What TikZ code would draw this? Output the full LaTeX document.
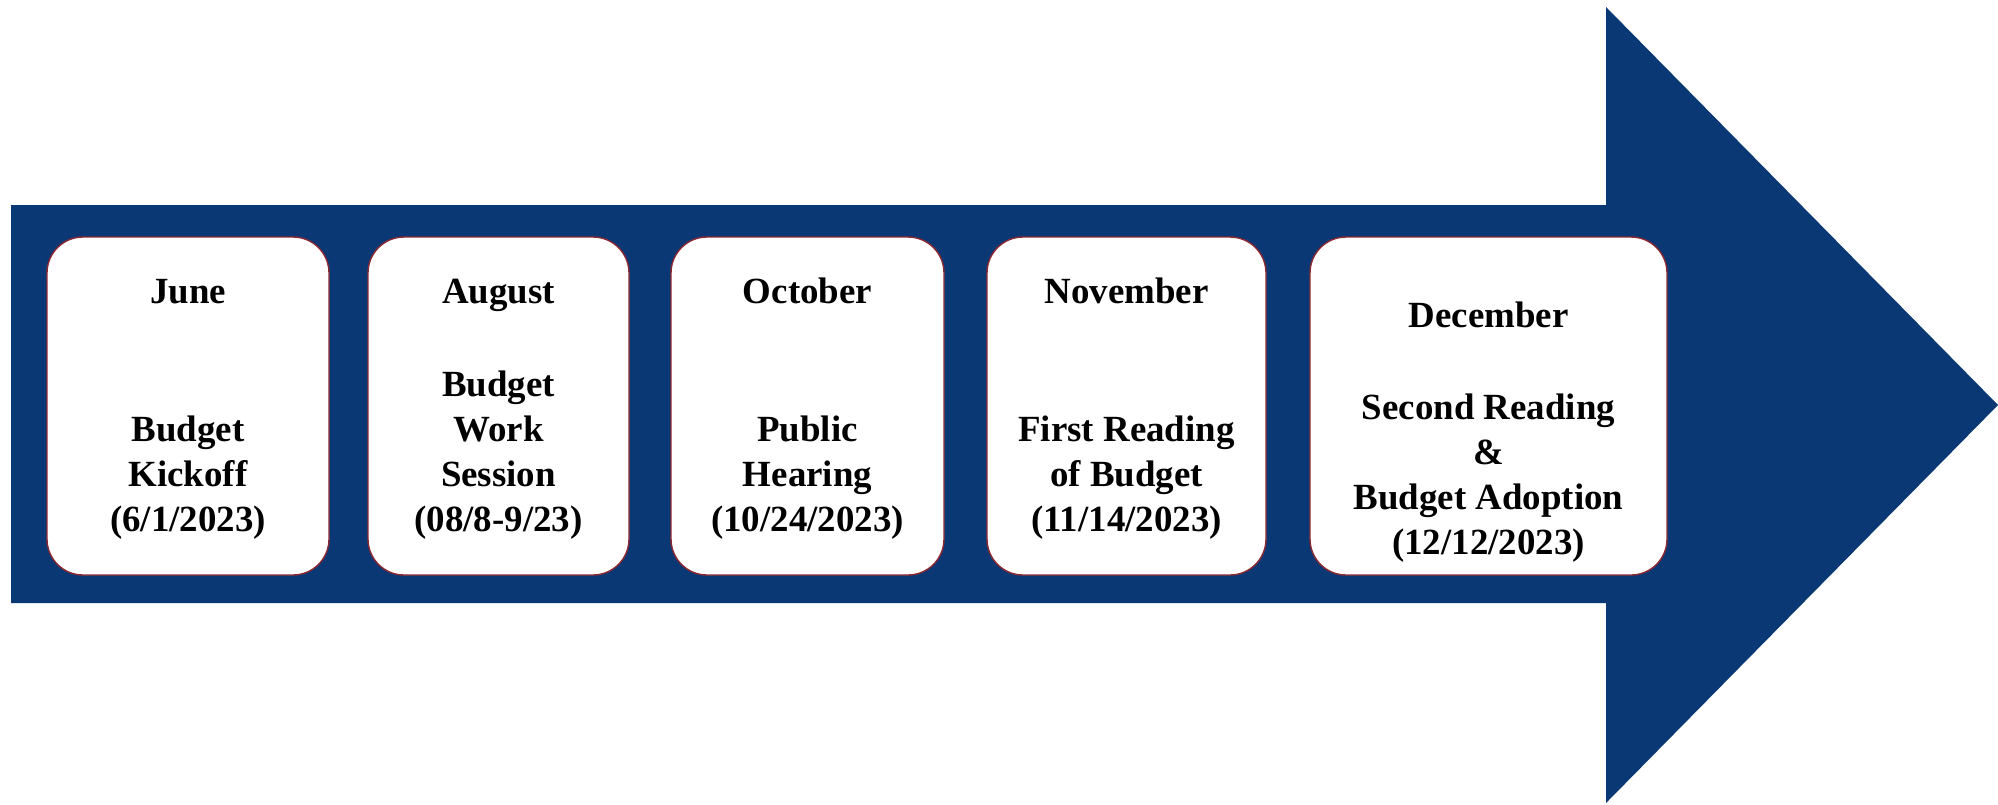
\documentclass[tikz,border=0pt]{standalone}
\usepackage{fontspec}
\setmainfont{Liberation Serif}
\definecolor{arrowblue}{RGB}{10,56,116}
\definecolor{rimred}{RGB}{140,40,50}

\begin{document}
\begin{tikzpicture}[
  stage/.style={draw=rimred, line width=0.4pt, fill=white,
    rounded corners=3.6mm, minimum height=33.8mm, inner sep=0pt},
  stagetxt/.style={align=center, inner sep=0pt, yshift=-0.3mm,
    font=\bfseries\fontsize{10.5pt}{12.8pt}\selectfont},
]
\useasboundingbox (0,0) rectangle (19.98,8.04);
% the arrow: shaft and head in one path
\fill[arrowblue] (0.11,2.01) -- (0.11,5.99) -- (16.06,5.99) -- (16.06,7.97)
  -- (19.98,3.99) -- (16.06,0.01) -- (16.06,2.01) -- cycle;
% the five boxes on the shaft
\node[stage, minimum width=28.2mm] (jun) at (1.88,3.98) {};
\node[stage, minimum width=26.1mm] (aug) at (4.985,3.98) {};
\node[stage, minimum width=27.3mm] (oct) at (8.075,3.98) {};
\node[stage, minimum width=27.9mm] (nov) at (11.265,3.98) {};
\node[stage, minimum width=35.7mm] (dec) at (14.885,3.98) {};
% their texts
\node[stagetxt] (jun-txt) at (jun) {June\\[9.3mm]Budget\\Kickoff\\(6/1/2023)};
\node[stagetxt] (aug-txt) at (aug) {August\\[4.8mm]Budget\\Work\\Session\\(08/8-9/23)};
\node[stagetxt] (oct-txt) at (oct) {October\\[9.3mm]Public\\Hearing\\(10/24/2023)};
\node[stagetxt] (nov-txt) at (nov) {November\\[9.3mm]First Reading\\of Budget\\(11/14/2023)};
\node[stagetxt] (dec-txt) at ([yshift=-2.3mm]dec.center)
  {December\\[4.7mm]Second Reading\\\&\\Budget Adoption\\(12/12/2023)};
\end{tikzpicture}
\end{document}
